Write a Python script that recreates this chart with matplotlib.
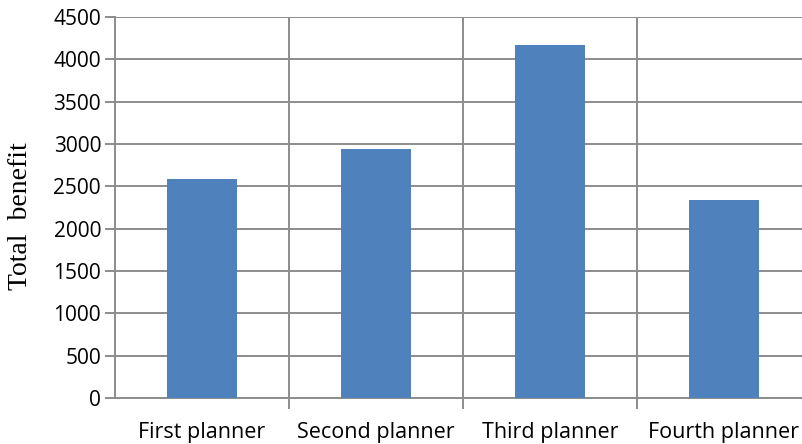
import matplotlib
matplotlib.use("Agg")
import matplotlib.pyplot as plt
import numpy as np

# data
planners = ["First planner", "Second planner", "Third planner", "Fourth planner"]
benefit = [2590, 2940, 4170, 2340]
y_ticks = [0, 500, 1000, 1500, 2000, 2500, 3000, 3500, 4000, 4500]

GRID = "#8c8c8c"
BAR = "#4f81bd"

fig = plt.figure(figsize=(8.02, 4.44), dpi=100)
ax = fig.add_axes([115 / 802, 46 / 444, 696 / 802, 381 / 444])

x = np.arange(len(planners))
ax.bar(x, benefit, width=0.4, color=BAR, zorder=3)

ax.set_xlim(-0.5, len(planners) - 0.5)
ax.set_ylim(0, 4500)

# y axis
ax.set_yticks(y_ticks)
ax.set_yticklabels([str(v) for v in y_ticks], fontfamily="Open Sans", fontsize=15)
ax.yaxis.grid(True, color=GRID, linewidth=1.4, zorder=0)
ax.tick_params(axis="y", length=7, width=1.4, color=GRID, pad=3)

# x axis: labels at centres, ticks and grid at boundaries
ax.set_xticks(x)
ax.set_xticklabels(planners, fontfamily="Open Sans", fontsize=15.5)
ax.tick_params(axis="x", which="major", length=0, pad=17)
ax.set_xticks(np.arange(len(planners)) + 0.5, minor=True)
ax.tick_params(axis="x", which="minor", length=8, width=1.4, color=GRID)
ax.xaxis.grid(True, which="minor", color=GRID, linewidth=1.4, zorder=0)

for side in ["top", "right"]:
    ax.spines[side].set_visible(False)
for side in ["left", "bottom"]:
    ax.spines[side].set_color(GRID)
    ax.spines[side].set_linewidth(1.4)

fig.text(21 / 802, 1 - 216 / 444, "Total  benefit", rotation=90,
         family="Liberation Serif", fontsize=20, ha="center", va="center")

fig.savefig("out.png", dpi=100)
